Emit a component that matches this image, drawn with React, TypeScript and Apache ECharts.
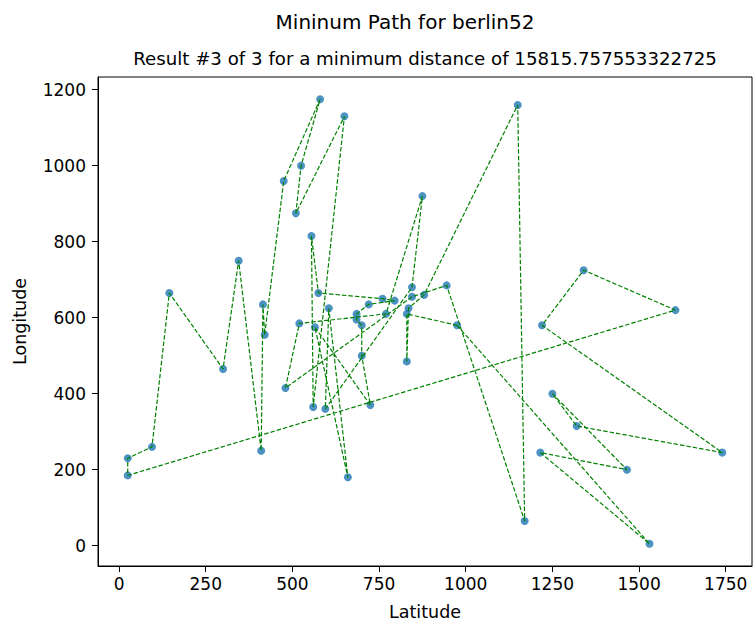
import React, { useEffect, useRef } from "react";
import * as echarts from "echarts";

// berlin52 city coordinates (city n is at index n-1)
const cityX = [565, 25, 345, 945, 845, 880, 25, 525, 580, 650, 1605, 1220, 1465, 1530, 845, 725, 145, 415, 510, 560, 300, 520, 480, 835, 975, 1215, 1320, 1250, 660, 410, 420, 575, 1150, 700, 685, 685, 770, 795, 720, 760, 475, 95, 875, 700, 555, 830, 1170, 830, 605, 595, 1340, 1740];
const cityY = [575, 185, 750, 685, 655, 660, 230, 1000, 1175, 1130, 620, 580, 200, 5, 680, 370, 665, 635, 875, 365, 465, 585, 415, 625, 580, 245, 315, 400, 180, 250, 555, 665, 1160, 580, 595, 610, 610, 645, 635, 650, 960, 260, 920, 500, 815, 485, 65, 610, 625, 360, 725, 245];

// visiting order (1-based city numbers), closed tour
const tourOrder = [25, 14, 26, 13, 28, 27, 52, 12, 51, 11, 2, 7, 42, 17, 21, 3, 30, 18, 31, 41, 9, 8, 19, 10, 20, 45, 32, 40, 38, 39, 36, 35, 34, 44, 16, 1, 29, 49, 50, 15, 43, 37, 22, 23, 5, 4, 47, 33, 6, 24, 46, 48];

const xTicks = [0, 250, 500, 750, 1000, 1250, 1500, 1750];
const yTicks = [0, 200, 400, 600, 800, 1000, 1200];

const titleText = "Mininum Path for berlin52";
const subtitleText = "Result #3 of 3 for a minimum distance of 15815.757553322725";

export default function App() {
  const ref = useRef<HTMLDivElement>(null);
  useEffect(() => {
    const chart = echarts.init(ref.current as HTMLDivElement, null, { renderer: "svg" });
    const pts = cityX.map((x, i) => [x, cityY[i]]);
    const path = tourOrder.map((c) => pts[c - 1]);
    path.push(path[0]);
    const font = "DejaVu Sans";
    const fmt = (v: number) => String(v);
    chart.setOption({
      animation: false,
      backgroundColor: "#ffffff",
      textStyle: { fontFamily: font },
      graphic: [
        { type: "text", x: 405, y: 22, style: { text: titleText, fontSize: 20, fontFamily: font, fill: "#000", align: "center", verticalAlign: "middle" } },
        { type: "text", x: 425, y: 58, style: { text: subtitleText, fontSize: 18.2, fontFamily: font, fill: "#000", align: "center", verticalAlign: "middle" } },
      ],
      grid: {
        left: 98,
        top: 77,
        width: 654,
        height: 489,
        containLabel: false,
        outerBoundsMode: "none",
        show: true,
        borderColor: "#000",
        borderWidth: 1,
        backgroundColor: "transparent",
      },
      xAxis: {
        type: "value",
        min: -60.75,
        max: 1825.75,
        name: "Latitude",
        nameLocation: "middle",
        nameGap: 37,
        nameTextStyle: { fontSize: 17.5, color: "#000", fontFamily: font },
        axisLine: { show: true, onZero: false, lineStyle: { color: "#000", width: 1 } },
        axisTick: { show: true, customValues: xTicks, length: 6, lineStyle: { color: "#000" } },
        axisLabel: { customValues: xTicks, formatter: fmt, fontSize: 17, color: "#000", margin: 9, fontFamily: font },
        splitLine: { show: false },
      },
      yAxis: {
        type: "value",
        min: -53.5,
        max: 1233.5,
        name: "Longitude",
        nameLocation: "middle",
        nameGap: 69,
        nameTextStyle: { fontSize: 17.5, color: "#000", fontFamily: font },
        axisLine: { show: true, onZero: false, lineStyle: { color: "#000", width: 1 } },
        axisTick: { show: true, customValues: yTicks, length: 6, lineStyle: { color: "#000" } },
        axisLabel: { customValues: yTicks, formatter: fmt, fontSize: 17, color: "#000", margin: 12, fontFamily: font },
        splitLine: { show: false },
      },
      series: [
        {
          type: "scatter",
          data: pts,
          symbol: "circle",
          symbolSize: 8,
          itemStyle: { color: "#1f77b4" },
          z: 2,
        },
        {
          type: "line",
          data: path,
          symbol: "none",
          lineStyle: { color: "#008000", width: 1.2, type: [4.5, 2] },
          z: 3,
        },
      ],
    });
    return () => chart.dispose();
  }, []);
  return <div ref={ref} style={{ position: "fixed", left: 0, top: 0, width: 753, height: 622 }} />;
}
